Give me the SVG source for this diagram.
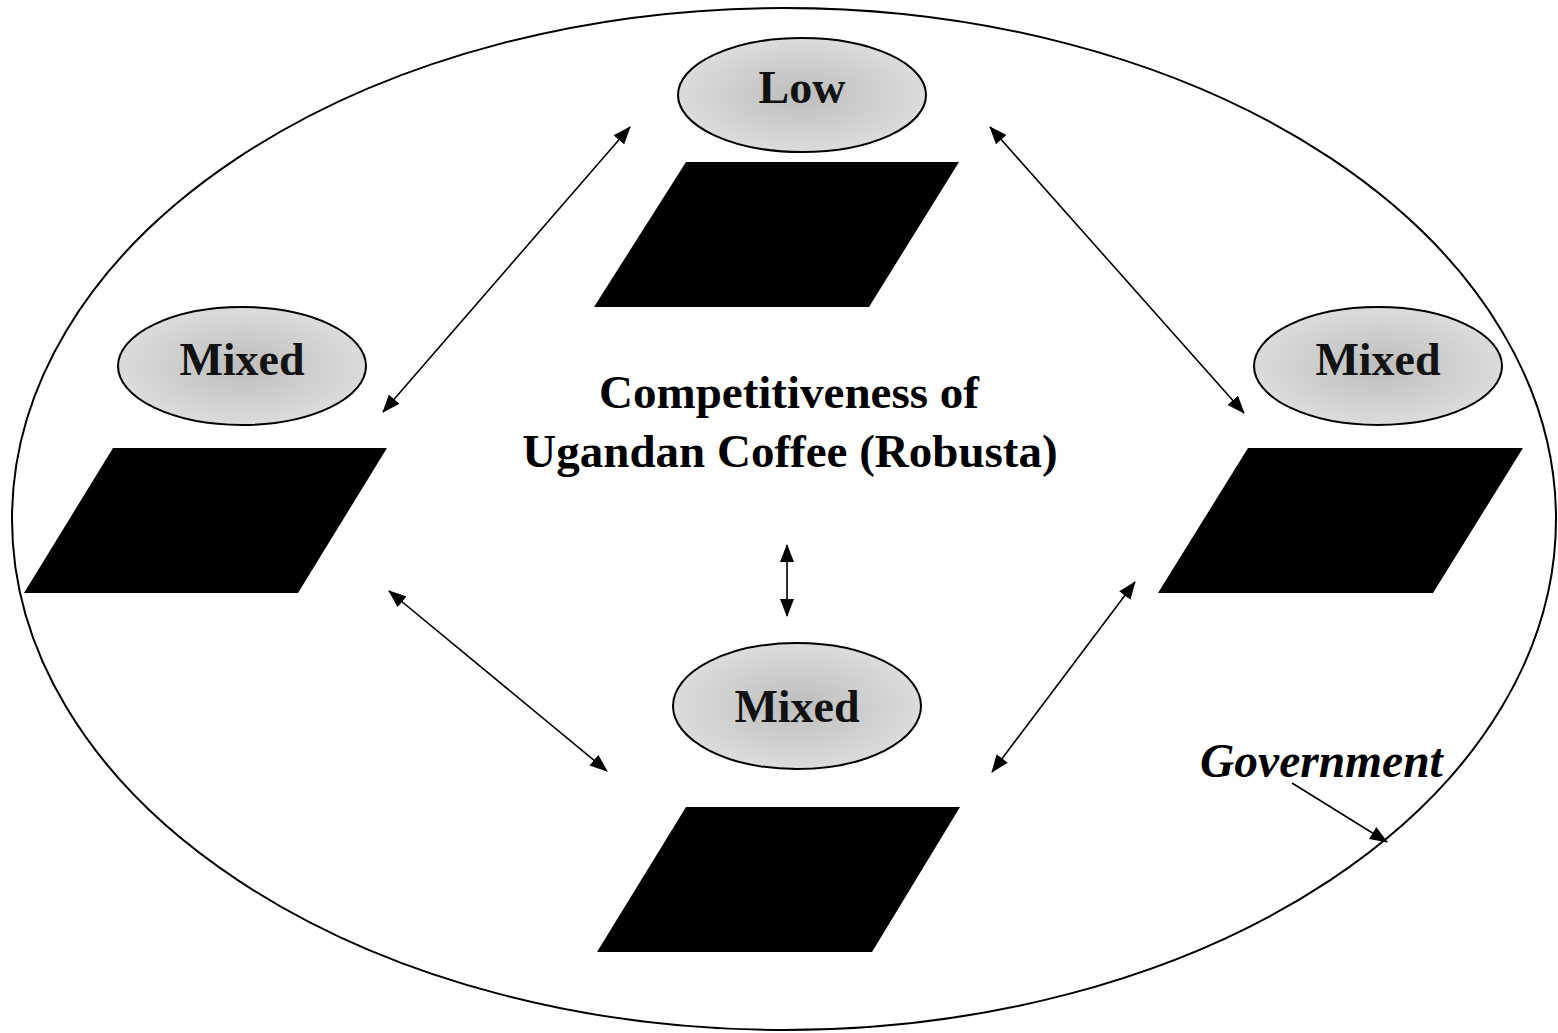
<svg xmlns="http://www.w3.org/2000/svg" width="1558" height="1033" viewBox="0 0 1558 1033">
<defs>
<radialGradient id="stip" cx="50%" cy="50%" r="50%">
<stop offset="0" stop-color="#bdbdbd"/>
<stop offset="1" stop-color="#dcdcdc"/>
</radialGradient>
<marker id="ah" viewBox="0 0 18 14" refX="17" refY="7" markerWidth="18" markerHeight="14" markerUnits="userSpaceOnUse" orient="auto-start-reverse">
<path d="M0,0 L18,7 L0,14 z" fill="#000"/>
</marker>
</defs>
<style>
.oval{fill:url(#stip);stroke:#000;stroke-width:2}
.para{fill:#000;stroke:none}
.lbl{font-family:"Liberation Serif","Times New Roman",serif;font-weight:bold;font-size:46px;text-anchor:middle;fill:#111}
.title{font-family:"Liberation Serif","Times New Roman",serif;font-weight:bold;font-size:47px;text-anchor:middle;fill:#000}
.gov{font-family:"Liberation Serif","Times New Roman",serif;font-weight:bold;font-style:italic;font-size:47.5px;fill:#000}
.conn line{stroke:#000;stroke-width:1.6;fill:none}
</style>
<rect width="1558" height="1033" fill="#fff"/>
<g id="boundary">
<ellipse cx="784" cy="519" rx="772" ry="511" fill="none" stroke="#000" stroke-width="2"/>
</g>
<g id="node-top">
<ellipse class="oval" cx="802" cy="95" rx="124" ry="57"/>
<text class="lbl" x="802" y="103">Low</text>
<polygon class="para" points="686,162 959,162 869,307 594,307"/>
</g>
<g id="node-left">
<ellipse class="oval" cx="242" cy="366" rx="124" ry="59"/>
<text class="lbl" x="242" y="375">Mixed</text>
<polygon class="para" points="113,448 387,448 298,593 24,593"/>
</g>
<g id="node-right">
<ellipse class="oval" cx="1378" cy="366" rx="124" ry="59"/>
<text class="lbl" x="1378" y="375">Mixed</text>
<polygon class="para" points="1248,448 1523,448 1433,593 1158,593"/>
</g>
<g id="node-bottom">
<ellipse class="oval" cx="797" cy="706" rx="124" ry="63"/>
<text class="lbl" x="797" y="722">Mixed</text>
<polygon class="para" points="686,807 960,807 872,952 597,952"/>
</g>
<g id="center">
<text class="title" x="789" y="408">Competitiveness of</text>
<text class="title" x="790" y="467">Ugandan Coffee (Robusta)</text>
</g>
<g id="government">
<text class="gov" x="1200" y="777">Government</text>
</g>
<g class="conn" id="connectors">
<line x1="630" y1="127" x2="383" y2="412" marker-start="url(#ah)" marker-end="url(#ah)"/>
<line x1="990" y1="127" x2="1244" y2="413" marker-start="url(#ah)" marker-end="url(#ah)"/>
<line x1="389" y1="591" x2="607" y2="771" marker-start="url(#ah)" marker-end="url(#ah)"/>
<line x1="1135" y1="582" x2="992" y2="772" marker-start="url(#ah)" marker-end="url(#ah)"/>
<line x1="787" y1="545" x2="787" y2="616" marker-start="url(#ah)" marker-end="url(#ah)"/>
<line x1="1292" y1="783" x2="1387" y2="842" marker-end="url(#ah)"/>
</g>
</svg>
